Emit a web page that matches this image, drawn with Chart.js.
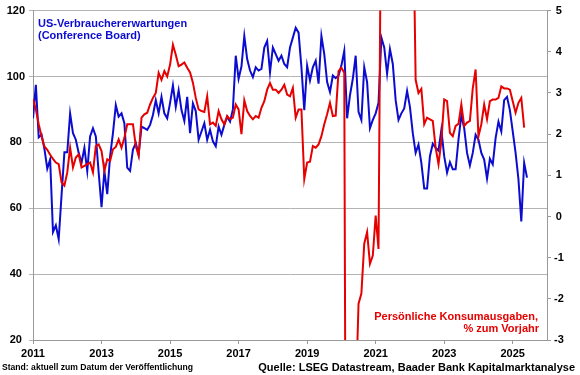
<!DOCTYPE html>
<html>
<head>
<meta charset="utf-8">
<script src="https://cdn.jsdelivr.net/npm/chart.js@4"></script>
<style>
  html, body { margin: 0; padding: 0; background: #fff; }
  #wrap { width: 580px; height: 375px; position: relative; }
</style>
</head>
<body>
<div id="wrap"><canvas id="chart"></canvas></div>
<script>
// monthly values, first month = Jan 2011
const startYear = 2011;
const yearTicks = [2011, 2013, 2015, 2017, 2019, 2021, 2023, 2025];

// Conference Board expectations index (left axis)
const expectations = [
  87.3, 97.5, 81.5, 82.3, 78, 72, 74.8, 52.8, 54.8, 50.6,
  64, 77, 77, 88.8, 82.8, 80.8, 76.8, 73.8, 78.3, 71.3,
  81.8, 84.3, 81.8, 70.8, 60.3, 71.3, 64.3, 75.8, 82.8, 91.3,
  87.8, 88.8, 85.8, 72.3, 71.3, 77.8, 79.8, 76.3, 84.8, 84.3,
  83.8, 85.3, 88.3, 92.8, 88.8, 93.8, 88.8, 87.3, 92, 97.3,
  90.8, 95.8, 89.8, 86.5, 93.8, 82.8, 91.8, 89.5, 80.8, 83.3,
  85.8, 80.8, 83.8, 80.3, 78.8, 84.8, 82.3, 85.3, 87.8, 86.3,
  90, 106.3, 99.3, 103, 112.3, 105.3, 101.8, 99.8, 102.8, 101.8,
  102.3, 108.8, 110.8, 101.3, 108.8, 106.8, 104.8, 106.3, 103.8, 102.8,
  108.8, 111.8, 114.8, 113.3, 102.8, 89.8, 103.3, 98.8, 102.8, 104.8,
  97.8, 112.3, 106.8, 98.3, 95.3, 100.3, 99.5, 100.3, 103.3, 107.8,
  87.3, 94.3, 99.3, 106.3, 89.3, 86.8, 102.8, 98.3, 84.3, 86.8,
  88.8, 92, 111.8, 108.8, 100.8, 108.3, 103.8, 92.8, 86.8, 88.8,
  90.3, 95.6, 90.8, 82.8, 76.8, 79.3, 73.8, 66, 66, 75.8,
  79.6, 78.3, 77.5, 83.8, 75.8, 70.8, 74, 71.8, 71.8, 80.8,
  88.3, 84.3, 76.8, 73, 76.8, 82.3, 80.8, 76.8, 74.8, 69,
  75, 73.3, 81.3, 86.3, 83.3, 92.8, 93.8, 89.8, 83.3, 76.8,
  68.8, 56, 73.8, 69.3
];

// personal consumption expenditures, % yoy (right axis)
const consumption = [
  2.85, 2.6, 2.24, 1.95, 1.7, 1.62, 1.5, 1.4, 1.31, 1.27,
  0.83, 0.75, 1.07, 1.67, 1.19, 1.43, 1.51, 1.19, 1.23, 1.27,
  1.31, 1.07, 1.71, 1.75, 1.59, 1.11, 1.39, 1.35, 1.63, 1.69,
  1.87, 1.67, 1.91, 2.24, 2.24, 2.24, 1.71, 1.47, 2.4, 2.48,
  2.52, 2.72, 2.88, 3.0, 3.49, 3.32, 3.53, 3.4, 3.69, 4.17,
  3.93, 3.65, 3.69, 3.74, 3.61, 3.5, 3.25, 2.88, 2.6, 2.56,
  2.54, 2.92, 2.24, 2.28, 2.2, 2.56, 2.36, 2.24, 2.44, 2.36,
  2.4, 2.72, 2.6, 2.0, 2.82, 2.56, 2.44, 2.36, 2.44, 2.4,
  2.64, 2.8, 3.08, 3.24, 3.08, 3.08, 3.0, 3.08, 3.2, 2.96,
  2.92, 3.12, 2.4, 2.6, 2.6, 0.91, 1.31, 1.33, 1.71, 1.67,
  1.75, 1.95, 2.24, 2.48, 2.76, 2.44, 2.45, 3.53, 3.61, 3.49,
  -17, -12, -6.5, -4.5, -2.12, -1.87, -0.66, -0.38, -1.15, -0.95,
  0.02, -0.79, 9, 26, 17, 12.5, 11, 9, 8, 7,
  7.5, 8, 8.5, 8, 3.32, 3.0, 3.1, 2.24, 2.4, 2.36,
  2.32, 1.67, 1.27, 1.83, 2.84, 2.8, 2.03, 1.95, 2.2, 2.25,
  2.72, 2.2, 2.28, 2.32, 3.11, 3.57, 1.95, 2.24, 2.72, 2.36,
  2.8, 2.84, 2.84, 2.88, 3.16, 3.11, 3.11, 3.08, 2.8, 2.52,
  2.76, 2.88, 2.16
];

const BLUE = '#0c0cd0';
const RED = '#e60000';
const FONT = '"Liberation Sans", Arial, sans-serif';

const toPoints = arr => arr.map((v, i) => ({ x: startYear + i / 12, y: v }));

const notes = {
  id: 'notes',
  afterDraw(chart) {
    const ctx = chart.ctx;
    ctx.save();
    ctx.textBaseline = 'alphabetic';
    ctx.font = 'bold 11px ' + FONT;
    ctx.fillStyle = BLUE;
    ctx.textAlign = 'left';
    ctx.fillText('US-Verbrauchererwartungen', 38, 27);
    ctx.fillText('(Conference Board)', 38, 39);
    ctx.fillStyle = RED;
    ctx.textAlign = 'right';
    ctx.fillText('Persönliche Konsumausgaben,', 538, 320);
    ctx.fillText('% zum Vorjahr', 539, 332);
    ctx.fillStyle = '#000';
    ctx.fillText('Quelle: LSEG Datastream, Baader Bank Kapitalmarktanalyse', 575, 371);
    ctx.textAlign = 'left';
    ctx.font = 'bold 8.6px ' + FONT;
    ctx.fillText('Stand: aktuell zum Datum der Veröffentlichung', 2, 370);
    ctx.restore();
  }
};

const tickFont = { family: FONT, size: 11, weight: 'bold' };

new Chart(document.getElementById('chart').getContext('2d'), {
  type: 'line',
  data: {
    datasets: [
      {
        label: 'Persönliche Konsumausgaben, % zum Vorjahr',
        data: toPoints(consumption),
        borderColor: RED,
        borderWidth: 2,
        pointRadius: 0,
        tension: 0,
        yAxisID: 'y2'
      },
      {
        label: 'US-Verbrauchererwartungen (Conference Board)',
        data: toPoints(expectations),
        borderColor: BLUE,
        borderWidth: 2,
        pointRadius: 0,
        tension: 0,
        yAxisID: 'y'
      }
    ]
  },
  options: {
    responsive: true,
    maintainAspectRatio: false,
    animation: false,
    layout: { padding: { top: 9 } },
    plugins: { legend: { display: false }, tooltip: { enabled: false } },
    scales: {
      x: {
        type: 'linear',
        min: 2011,
        max: 2026,
        afterBuildTicks: s => { s.ticks = yearTicks.map(v => ({ value: v })); },
        afterFit: s => { s.height = 35; },
        ticks: { font: tickFont, color: '#000', padding: 3, maxRotation: 0, autoSkip: false, callback: v => String(v) },
        grid: { drawOnChartArea: false, tickLength: 4, color: '#9a9a9a' },
        border: { color: '#9a9a9a' }
      },
      y: {
        position: 'left',
        min: 20,
        max: 120,
        afterFit: s => { s.width = 33; },
        ticks: { stepSize: 20, font: tickFont, color: '#000', padding: 4, crossAlign: 'center' },
        grid: { color: '#b4b4b4', tickLength: 4 },
        border: { color: '#9a9a9a' }
      },
      y2: {
        position: 'right',
        min: -3,
        max: 5,
        afterFit: s => { s.width = 33; },
        ticks: { stepSize: 1, font: tickFont, color: '#000', padding: 3, crossAlign: 'center' },
        grid: { drawOnChartArea: false, tickLength: 4, color: '#9a9a9a' },
        border: { color: '#9a9a9a' }
      }
    }
  },
  plugins: [notes]
});
</script>
</body>
</html>
